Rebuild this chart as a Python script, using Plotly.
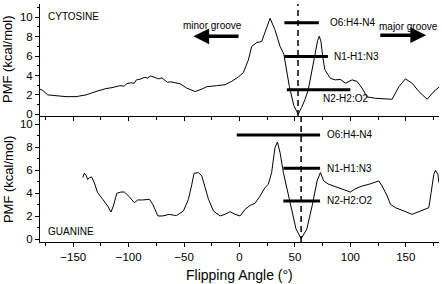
import plotly.graph_objects as go

# ---- data: cytosine PMF (top panel) ----
cyt_angle = [-180, -177.5, -173, -165.5, -156.5, -147.5, -138.5, -129.5, -120.5, -115, -111.5, -108, -104,
             -102, -98, -95, -93, -90, -86, -83, -80, -78, -75, -73, -70, -68, -65, -62, -60, -53.6,
             -47.6, -40, -34, -29.5, -20.5, -13, -7, -1, 3.5, 8, 11, 15.6, 20, 23, 27.6, 32, 36.6,
             40, 45, 49, 53, 56, 59, 62, 65, 68, 70.5, 72, 73.5, 75, 77, 82, 86.5, 91, 95.6, 101.6,
             106, 110.6, 115, 122.7, 131.7, 137.7, 143.8, 149.7, 155.8, 161.8, 169.3, 175.3, 180]
cyt_pmf = [2.6, 2.45, 2.0, 1.9, 1.82, 1.82, 2.0, 2.35, 2.65, 2.75, 2.85, 2.95, 2.9,
           3.15, 3.25, 3.2, 3.55, 3.6, 3.8, 3.75, 3.95, 3.85, 3.7, 3.65, 3.75, 3.6, 3.3, 3.35, 3.3, 3.15,
           2.7, 2.35, 2.6, 2.85, 2.95, 3.05, 3.4, 3.85, 4.3, 5.6, 7.0, 7.4, 7.5, 8.4, 9.9, 8.7, 7.0,
           6.2, 2.85, 0.9, 0.0, 0.7, 1.5, 2.5, 4.2, 6.2, 7.6, 8.05, 7.5, 6.0, 4.6, 3.7, 3.55, 3.6, 3.2, 3.55,
           3.4, 2.7, 1.8, 1.65, 1.55, 1.55, 2.85, 3.65, 3.2, 2.35, 1.55, 2.35, 2.8]

# ---- data: guanine PMF (bottom panel) ----
gua_angle = [-141.4, -140, -138.4, -137, -135.5, -133.3, -131, -128, -123.4, -119, -115.9, -113.8, -110.7,
             -106.8, -103.9, -99.4, -94.9, -91.8, -87.3, -81.3, -78.2, -73.7, -69.2, -63.3, -58.8, -56.6,
             -50.6, -46.1, -43, -41, -37, -34, -31, -28, -23.5, -17.5, -13, -8.5, -4, 0.5, 5, 9.6, 14,
             18.6, 23, 26, 29, 32, 34.2, 36.6, 39.6, 43, 47, 51, 55.6, 60.7, 65.5, 70, 73, 76, 80.6,
             86.6, 92.6, 100, 104.6, 110.6, 116.7, 121.2, 125.7, 128.7, 133.2, 136.2, 140.7, 148.3,
             155.8, 163.3, 170.8, 172.9, 175.3, 176.8, 179, 180]
gua_pmf = [5.36, 5.74, 5.56, 5.2, 5.36, 5.42, 4.92, 4.05, 3.48, 2.9, 2.37, 2.9, 4.0,
           4.11, 4.11, 3.7, 3.18, 3.42, 3.42, 3.48, 3.04, 2.03, 2.03, 2.17, 2.08, 2.08,
           2.46, 3.48, 4.78, 5.74, 5.8, 5.5, 4.5, 3.48, 2.46, 2.03, 2.17, 2.4, 2.17, 2.03, 2.6, 2.95, 3.13,
           3.77, 4.5, 4.78, 5.8, 7.97, 8.46, 7.53, 5.8, 4.3, 2.6, 0.9, 0.05, 0.87, 2.9, 5.07, 5.8, 5.07, 4.78,
           4.57, 4.35, 4.11, 4.4, 4.63, 4.78, 4.92, 5.07, 4.63, 3.77, 3.04, 2.75, 2.46,
           2.17, 2.46, 2.75, 4.05, 5.65, 6.0, 5.65, 4.9]

# ---- hydrogen-bond bars: label, start angle, end angle, PMF level ----
hb_labels = ["O6:H4-N4", "N1-H1:N3", "N2-H2:O2"]
cyt_bar_start = [40.5, 40.5, 42.7]
cyt_bar_end = [71.6, 79.8, 100.0]
cyt_bar_level = [9.43, 5.97, 2.52]
gua_bar_start = [-2.5, 39.6, 39.6]
gua_bar_end = [72.7, 72.7, 72.7]
gua_bar_level = [9.07, 6.17, 3.33]

cyt_min_angle = 52.8
gua_min_angle = 55.6

x_ticks = [-150, -100, -50, 0, 50, 100, 150]
y_ticks = [0, 2, 4, 6, 8, 10]

FONT = "Liberation Sans, Arial, sans-serif"
fig = go.Figure()

fig.add_trace(go.Scatter(x=cyt_angle, y=cyt_pmf, mode="lines", line=dict(color="black", width=1),
                         xaxis="x", yaxis="y", showlegend=False, hoverinfo="skip"))
fig.add_trace(go.Scatter(x=gua_angle, y=gua_pmf, mode="lines", line=dict(color="black", width=1),
                         xaxis="x2", yaxis="y2", showlegend=False, hoverinfo="skip"))

for s, e, lv in zip(cyt_bar_start, cyt_bar_end, cyt_bar_level):
    fig.add_trace(go.Scatter(x=[s, e], y=[lv, lv], mode="lines", line=dict(color="black", width=3),
                             xaxis="x", yaxis="y", showlegend=False, hoverinfo="skip"))
for s, e, lv in zip(gua_bar_start, gua_bar_end, gua_bar_level):
    fig.add_trace(go.Scatter(x=[s, e], y=[lv, lv], mode="lines", line=dict(color="black", width=3),
                             xaxis="x2", yaxis="y2", showlegend=False, hoverinfo="skip"))

annotations = []
# labels on top panel
annotations.append(dict(x=cyt_bar_end[0] + 8.5, y=cyt_bar_level[0], xref="x", yref="y", text=hb_labels[0],
                        showarrow=False, xanchor="left", yanchor="middle"))
annotations.append(dict(x=cyt_bar_end[1] + 3.3, y=cyt_bar_level[1], xref="x", yref="y", text=hb_labels[1],
                        showarrow=False, xanchor="left", yanchor="middle"))
annotations.append(dict(x=73.6, y=cyt_bar_level[2] - 0.85, xref="x", yref="y", text=hb_labels[2],
                        showarrow=False, xanchor="left", yanchor="middle"))
# labels on bottom panel
for lab, e, lv in zip(hb_labels, gua_bar_end, gua_bar_level):
    annotations.append(dict(x=e + 4.3, y=lv, xref="x2", yref="y2", text=lab,
                            showarrow=False, xanchor="left", yanchor="middle"))

annotations += [
    dict(x=-174.7, y=10.06, xref="x", yref="y", text="CYTOSINE", showarrow=False, xanchor="left", yanchor="middle"),
    dict(x=-174.5, y=0.66, xref="x2", yref="y2", text="GUANINE", showarrow=False, xanchor="left", yanchor="middle"),
    dict(x=-24.8, y=9.13, xref="x", yref="y", text="minor groove", showarrow=False, xanchor="center", yanchor="middle"),
    dict(x=152.1, y=9.03, xref="x", yref="y", text="major groove", showarrow=False, xanchor="center", yanchor="middle"),
    dict(x=-41.6, y=8.04, ax=0.5, ay=8.04, xref="x", yref="y", axref="x", ayref="y", text="",
         showarrow=True, arrowhead=2, arrowsize=0.9, arrowwidth=3.5, arrowcolor="black", standoff=0, startstandoff=0),
    dict(x=168.4, y=8.15, ax=125.7, ay=8.15, xref="x", yref="y", axref="x", ayref="y", text="",
         showarrow=True, arrowhead=2, arrowsize=0.9, arrowwidth=3.5, arrowcolor="black", standoff=0, startstandoff=0),
    dict(x=0, y=0.765, xref="paper", yref="paper", xshift=-32, text="PMF (kcal/mol)", textangle=-90,
         showarrow=False, xanchor="center", yanchor="middle", font=dict(size=13)),
    dict(x=0, y=0.26, xref="paper", yref="paper", xshift=-32, text="PMF (kcal/mol)", textangle=-90,
         showarrow=False, xanchor="center", yanchor="middle", font=dict(size=13)),
    dict(x=0.5, y=0, xref="paper", yref="paper", yshift=-33, text="Flipping Angle (°)",
         showarrow=False, xanchor="center", yanchor="middle", font=dict(size=14)),
]

shapes = [
    dict(type="line", xref="x", yref="y domain", x0=cyt_min_angle, x1=cyt_min_angle, y0=0, y1=1,
         line=dict(color="black", width=1.5, dash="6px,4px")),
    dict(type="line", xref="x2", yref="y2 domain", x0=gua_min_angle, x1=gua_min_angle, y0=0, y1=1,
         line=dict(color="black", width=1.5, dash="6px,4px")),
]

split = 0.5294
xcommon = dict(range=[-180, 180], showline=True, linecolor="black", linewidth=1, showgrid=False,
               zeroline=False, ticks="outside", ticklen=4, tickcolor="black", tickvals=x_ticks,
               automargin=False,
               minor=dict(dtick=25, tick0=0, ticks="outside", ticklen=3, tickcolor="black"))
ycommon = dict(showline=True, linecolor="black", linewidth=1, showgrid=False, zeroline=False,
               ticks="outside", ticklen=4, tickcolor="black", tickvals=y_ticks, automargin=False,
               minor=dict(dtick=1, tick0=0, ticks="outside", ticklen=2, tickcolor="black"))

fig.update_layout(
    width=442, height=284,
    margin=dict(l=40, r=3, t=4, b=42),
    paper_bgcolor="white", plot_bgcolor="white",
    font=dict(family=FONT, size=10, color="black"),
    xaxis=dict(**xcommon, anchor="y", showticklabels=False, domain=[0, 1]),
    yaxis=dict(**ycommon, range=[-0.175, 11.37], domain=[split, 1], anchor="x", tickfont=dict(size=11.5)),
    xaxis2=dict(**xcommon, anchor="y2", domain=[0, 1], tickfont=dict(size=11.5)),
    yaxis2=dict(**ycommon, range=[-0.235, 10.72], domain=[0, split], anchor="x2", tickfont=dict(size=11.5)),
    annotations=annotations,
    shapes=shapes,
)

fig.write_html("out.html", config={"displayModeBar": False},
               post_script="document.body.style.margin='0';document.body.style.padding='0';")
